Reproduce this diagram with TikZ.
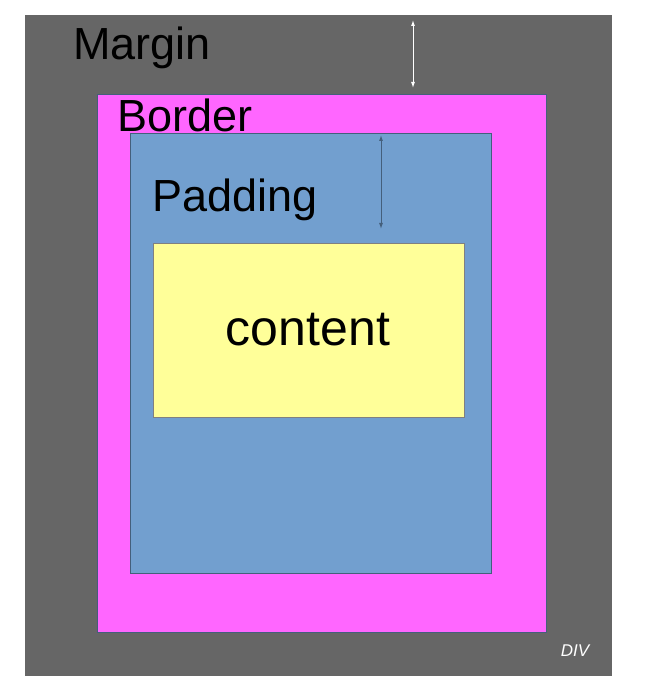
\documentclass[tikz,border=0pt]{standalone}
\usepackage{fontspec}
\setmainfont{Liberation Sans}
\usetikzlibrary{arrows.meta}
\definecolor{margingrey}{HTML}{666666}
\definecolor{bordermag}{HTML}{FF66FF}
\definecolor{padblue}{HTML}{729FCF}
\definecolor{contyellow}{HTML}{FFFF99}
\begin{document}
\begin{tikzpicture}[
  x=1pt, y=-1pt,
  box/.style={line width=0.6pt},
  lbl/.style={inner sep=0pt, font=\fontsize{45}{50}\selectfont},
  gap/.style={{Latex[length=6pt,width=4pt]}-{Latex[length=6pt,width=4pt]}, line width=1pt}
]
\useasboundingbox (0,0) rectangle (658,692);
\fill[white] (0,0) rectangle (658,692);
% boxes
\fill[margingrey] (25,15) rectangle (612,676);
\filldraw[box, fill=bordermag, draw=padblue!60!black] (97,94) rectangle (546,632);
\filldraw[box, fill=padblue, draw=padblue!60!black] (130,133) rectangle (491,573);
\filldraw[box, fill=contyellow, draw=gray] (153,243) rectangle (464,417);
% labels
\node[lbl] (margin) at (142,48) {Margin};
\node[lbl] (border) at (185,115) {Border};
\node[lbl] (padding) at (235,200) {Padding};
\node[lbl, font=\fontsize{50}{55}\selectfont] (content) at (308,330) {content};
\node[inner sep=0pt, text=white, font=\itshape\fontsize{17}{20}\selectfont] (div) at (575,651) {DIV};
% arrows
\coordinate (mtop) at (413,20);
\coordinate (mbot) at (413,88);
\coordinate (ptop) at (381,135);
\coordinate (pbot) at (381,229);
\draw[gap, white] (mtop) -- (mbot);
\draw[gap, padblue!60!black] (ptop) -- (pbot);
\end{tikzpicture}
\end{document}
